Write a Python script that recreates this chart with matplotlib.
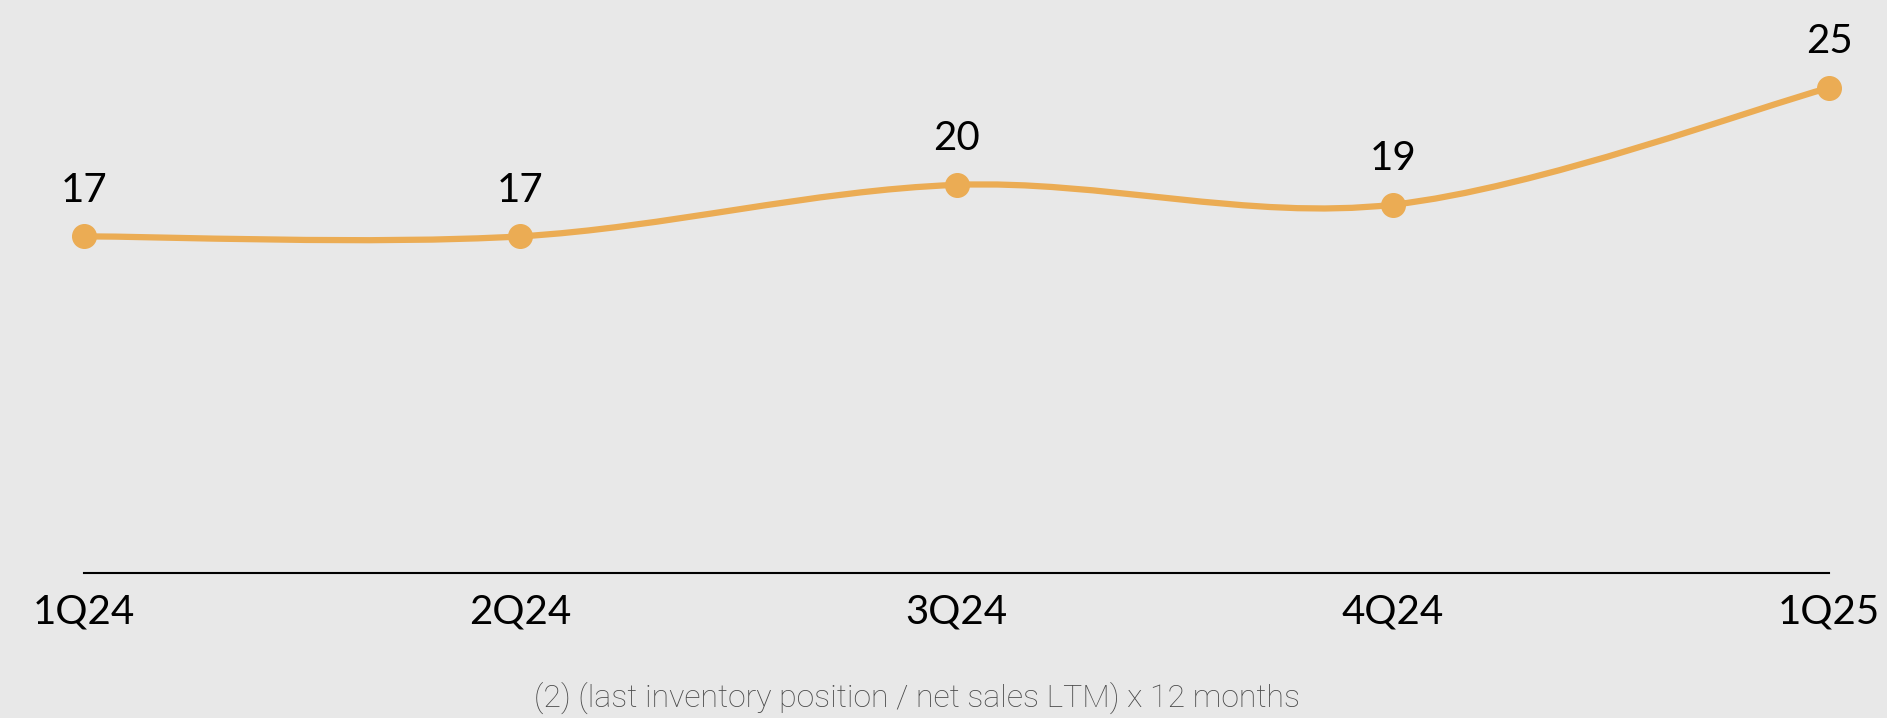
import matplotlib.pyplot as plt
from matplotlib.path import Path
from matplotlib.patches import PathPatch
import numpy as np

quarters = ["1Q24", "2Q24", "3Q24", "4Q24", "1Q25"]
days = [17.0, 17.0, 19.6, 18.6, 24.5]
labels = ["17", "17", "20", "19", "25"]
footnote = "(2) (last inventory position / net sales LTM) x 12 months"

bg = "#e8e8e8"
gold = "#ebac54"

fig = plt.figure(figsize=(18.87, 7.18), dpi=100, facecolor=bg)
ax = fig.add_axes([0.0445, 0.202, 0.9248, 0.717], facecolor=bg)

x = np.arange(len(days))
y = np.array(days)

# smoothed line like the office charts (bezier, catmull-rom style)
verts = [(x[0], y[0])]
codes = [Path.MOVETO]
for i in range(len(x) - 1):
    p0 = (x[max(i - 1, 0)], y[max(i - 1, 0)])
    p1 = (x[i], y[i])
    p2 = (x[i + 1], y[i + 1])
    p3 = (x[min(i + 2, len(x) - 1)], y[min(i + 2, len(x) - 1)])
    c1 = (p1[0] + (p2[0] - p0[0]) / 6, p1[1] + (p2[1] - p0[1]) / 6)
    c2 = (p2[0] - (p3[0] - p1[0]) / 6, p2[1] - (p3[1] - p1[1]) / 6)
    verts += [c1, c2, p2]
    codes += [Path.CURVE4] * 3
ax.add_patch(PathPatch(Path(verts, codes), facecolor="none", edgecolor=gold,
                       lw=4.5, capstyle="round", clip_on=False, zorder=2))
ax.plot(x, y, "o", color=gold, markersize=17, clip_on=False, zorder=3)

for xi, yi, lab in zip(x, y, labels):
    ax.annotate(lab, (xi, yi), xytext=(0, 20), textcoords="offset points",
                ha="center", va="bottom", fontsize=29, family="Lato", color="black")

ax.set_xlim(0, 4)
ax.set_ylim(0, 26)
ax.set_yticks([])
ax.set_xticks(x)
ax.set_xticklabels(quarters, fontsize=29, family="Lato")
ax.tick_params(axis="x", length=0, pad=15)
for s in ["top", "left", "right"]:
    ax.spines[s].set_visible(False)
ax.spines["bottom"].set_color("black")
ax.spines["bottom"].set_linewidth(1.5)

fig.text(0.486, 0.028, footnote, ha="center", va="center", fontsize=23,
         family="Roboto", fontweight="light", color="#4a4a4a")

fig.savefig("out.png", dpi=100, facecolor=bg)
